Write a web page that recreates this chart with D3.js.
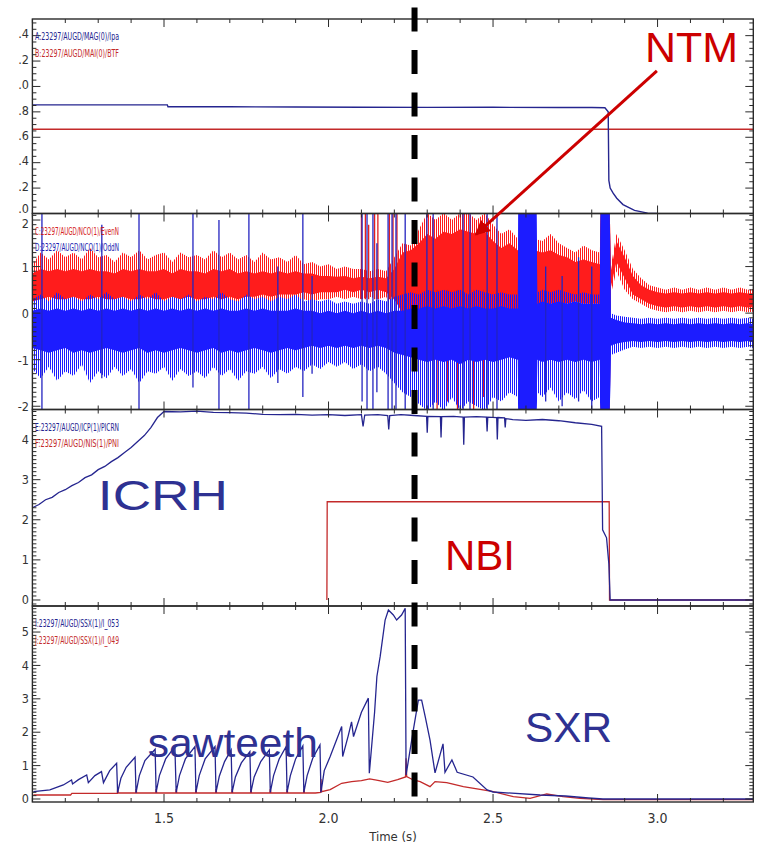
<!DOCTYPE html>
<html><head><meta charset="utf-8">
<script src="https://cdn.jsdelivr.net/npm/d3@7"></script>
<style>
html,body{margin:0;padding:0;background:#fff;}
svg{display:block;}
</style></head><body>
<svg id="chart" width="759" height="844"></svg>
<script>
// ---------- time axis ----------
const timeDomain = [1.1, 3.291];
const timeMajor = [1.5, 2.0, 2.5, 3.0];
const timeMajorLabels = ["1.5", "2.0", "2.5", "3.0"];

// ---------- panel 1: plasma current (Ipa) and toroidal field (BTF) ----------
const ipaT = [1.100, 1.300, 1.510, 1.512, 1.700, 1.900, 2.100, 2.300, 2.500, 2.700, 2.800, 2.840, 2.850, 2.852, 2.856, 2.865, 2.876, 2.895, 2.930, 2.970, 3.000];
const ipaV = [0.855, 0.855, 0.855, 0.840, 0.840, 0.838, 0.836, 0.835, 0.836, 0.834, 0.834, 0.832, 0.800, 0.260, 0.200, 0.160, 0.120, 0.070, 0.025, 0.003, 0.000];
const btfT = [1.100, 3.291];
const btfV = [0.663, 0.663];
const p1Ticks = [0, 0.2, 0.4, 0.6, 0.8, 1.0, 1.2, 1.4];
const p1TickLabels = [".0", ".2", ".4", ".6", ".8", ".0", ".2", ".4"];

// ---------- panel 2: EvenN / OddN mode signals (noise envelopes) ----------
const evenT = [1.100,1.125,1.150,1.175,1.200,1.225,1.250,1.275,1.300,1.325,
  1.350,1.375,1.400,1.425,1.450,1.475,1.500,1.525,1.550,1.575,
  1.600,1.625,1.650,1.675,1.700,1.725,1.750,1.775,1.800,1.825,
  1.850,1.875,1.900,1.925,1.950,1.975,2.000,2.025,2.050,2.075,
  2.100,2.125,2.150,2.175,2.200,2.225,2.250,2.275,2.300,2.325,
  2.350,2.375,2.400,2.425,2.450,2.475,2.500,2.525,2.550,2.575,
  2.600,2.625,2.650,2.675,2.700,2.725,2.750,2.775,2.800,
  2.824,2.827,2.855,2.858,
  2.875,2.900,2.925,2.950,2.975,3.000,3.025,3.050,3.075,3.100,3.125,3.150,3.175,3.200,3.225,3.250,3.275,3.291];
const evenOuterHi = [1.05,1.30,1.15,1.35,1.20,1.30,1.15,1.40,1.20,1.25,
  1.10,1.30,1.20,1.35,1.15,1.25,1.30,1.10,1.30,1.20,
  1.25,1.15,1.35,1.20,1.30,1.15,1.25,1.10,1.30,1.15,
  1.20,1.10,1.25,1.05,1.10,1.00,1.05,0.95,1.00,0.95,
  0.95,0.90,0.95,0.90,1.20,1.50,1.45,1.80,2.15,2.00,
  2.15,2.00,2.15,2.15,2.00,2.15,1.90,1.70,1.80,1.60,
  1.50,1.60,1.55,1.70,1.50,1.40,1.30,1.45,1.35,
  1.30,2.15,2.15,1.00,
  1.70,1.35,0.95,0.75,0.60,0.55,0.50,0.55,0.50,0.55,0.50,0.55,0.50,0.55,0.50,0.55,0.50,0.52];
const evenCoreHi = [0.85,0.95,0.90,0.95,0.90,0.95,0.90,0.95,0.90,0.90,
  0.85,0.95,0.90,0.95,0.90,0.90,0.95,0.85,0.95,0.90,
  0.90,0.85,0.95,0.90,0.95,0.85,0.90,0.85,0.90,0.85,
  0.90,0.85,0.90,0.85,0.85,0.80,0.80,0.78,0.80,0.75,
  0.78,0.75,0.78,0.75,0.95,1.30,1.35,1.50,1.70,1.60,
  1.75,1.70,1.80,1.75,1.70,1.75,1.55,1.40,1.50,1.35,
  1.30,1.35,1.30,1.35,1.25,1.20,1.10,1.15,1.10,
  1.05,2.15,2.15,0.90,
  1.55,1.20,0.80,0.60,0.50,0.45,0.42,0.45,0.42,0.45,0.42,0.45,0.42,0.45,0.42,0.45,0.42,0.43];
const evenCoreLo = [0.25,0.30,0.35,0.30,0.30,0.35,0.30,0.30,0.35,0.30,
  0.30,0.35,0.30,0.30,0.35,0.30,0.30,0.35,0.30,0.35,
  0.30,0.30,0.35,0.30,0.35,0.30,0.35,0.35,0.40,0.35,
  0.40,0.40,0.40,0.45,0.40,0.45,0.45,0.45,0.50,0.45,
  0.50,0.45,0.50,0.45,0.30,0.00,-0.10,-0.15,-0.20,-0.20,
  -0.25,-0.20,-0.20,-0.15,-0.20,-0.15,-0.10,0.00,0.00,0.05,
  0.10,0.10,0.15,0.20,0.20,0.20,0.25,0.20,0.20,
  0.20,-2.10,-2.10,0.55,
  1.10,0.75,0.40,0.30,0.20,0.15,0.12,0.15,0.12,0.15,0.12,0.15,0.12,0.15,0.12,0.15,0.12,0.13];
const evenOuterLo = [0.15,0.05,0.10,0.00,0.10,0.05,0.15,0.00,0.10,0.05,
  0.10,0.00,0.10,0.05,0.15,0.00,0.10,0.05,0.10,0.00,
  0.10,0.05,0.15,0.00,0.10,0.05,0.15,0.10,0.20,0.15,
  0.25,0.20,0.25,0.30,0.25,0.30,0.30,0.35,0.30,0.35,
  0.30,0.35,0.30,0.35,0.00,-0.40,-0.60,-0.80,-1.10,-1.20,
  -1.00,-1.40,-1.50,-1.80,-1.30,-1.90,-1.20,-0.80,-0.60,-0.50,
  -0.40,-0.30,-0.20,-0.30,-0.20,-0.30,-0.10,-0.20,-0.20,
  -0.30,-2.10,-2.10,0.40,
  0.90,0.50,0.30,0.20,0.10,0.05,0.02,0.05,0.02,0.05,0.02,0.05,0.02,0.05,0.02,0.05,0.02,0.03];

const oddT = [1.100,1.125,1.150,1.175,1.200,1.225,1.250,1.275,1.300,1.325,
  1.350,1.375,1.400,1.425,1.450,1.475,1.500,1.525,1.550,1.575,
  1.600,1.625,1.650,1.675,1.700,1.725,1.750,1.775,1.800,1.825,
  1.850,1.875,1.900,1.925,1.950,1.975,2.000,2.025,2.050,2.075,
  2.100,2.125,2.150,2.175,2.200,2.225,2.250,2.275,2.300,2.325,
  2.350,2.375,2.400,2.425,2.450,2.475,2.500,2.525,2.550,
  2.575,2.577,2.632,2.635,
  2.650,2.675,2.700,2.725,2.750,2.775,2.800,
  2.824,2.827,2.855,2.858,
  2.875,2.900,2.925,2.950,2.975,3.000,3.025,3.050,3.075,3.100,3.125,3.150,3.175,3.200,3.225,3.250,3.275,3.291];
const oddOuterHi = [0.30,0.40,0.25,0.45,0.30,0.35,0.25,0.40,0.30,0.45,
  0.30,0.35,0.25,0.40,0.30,0.45,0.25,0.35,0.30,0.40,
  0.25,0.35,0.30,0.45,0.30,0.25,0.40,0.30,0.35,0.25,
  0.35,0.30,0.40,0.25,0.30,0.25,0.30,0.20,0.25,0.20,
  0.25,0.20,0.30,0.25,0.35,0.40,0.45,0.40,0.50,0.45,
  0.50,0.45,0.50,0.40,0.50,0.45,0.40,0.45,0.40,
  0.40,2.15,2.15,0.45,
  0.50,0.45,0.50,0.45,0.40,0.45,0.40,
  0.40,2.15,2.15,0.00,
  -0.05,-0.08,-0.10,-0.12,-0.10,-0.12,-0.10,-0.12,-0.10,-0.12,-0.10,-0.12,-0.10,-0.12,-0.10,-0.12,-0.10,-0.12];
const oddCoreHi = [0.05,0.10,0.05,0.10,0.05,0.10,0.05,0.10,0.05,0.10,
  0.05,0.10,0.05,0.10,0.05,0.10,0.05,0.10,0.05,0.10,
  0.05,0.10,0.05,0.10,0.05,0.05,0.10,0.05,0.10,0.05,
  0.05,0.05,0.10,0.05,0.05,0.00,0.05,0.00,0.05,0.00,
  0.05,0.00,0.05,0.00,0.05,0.05,0.10,0.10,0.15,0.10,
  0.15,0.10,0.15,0.10,0.15,0.10,0.10,0.15,0.10,
  0.10,2.15,2.15,0.20,
  0.25,0.20,0.25,0.20,0.25,0.20,0.20,
  0.20,2.15,2.15,-0.10,
  -0.15,-0.20,-0.22,-0.24,-0.22,-0.24,-0.22,-0.24,-0.22,-0.24,-0.22,-0.24,-0.22,-0.24,-0.22,-0.24,-0.22,-0.24];
const oddCoreLo = [-0.75,-0.80,-0.85,-0.80,-0.75,-0.85,-0.80,-0.85,-0.80,-0.75,
  -0.80,-0.85,-0.80,-0.75,-0.85,-0.80,-0.85,-0.80,-0.75,-0.80,
  -0.85,-0.80,-0.75,-0.85,-0.80,-0.85,-0.80,-0.75,-0.80,-0.85,
  -0.80,-0.75,-0.80,-0.75,-0.70,-0.75,-0.70,-0.75,-0.70,-0.75,
  -0.70,-0.75,-0.70,-0.75,-0.85,-0.90,-0.95,-1.00,-1.05,-1.00,
  -1.05,-1.00,-1.10,-1.00,-1.05,-1.00,-1.05,-1.00,-0.95,
  -1.00,-2.10,-2.10,-1.00,
  -1.05,-1.00,-1.05,-1.00,-1.05,-1.00,-1.05,
  -1.00,-2.10,-2.10,-0.70,
  -0.65,-0.62,-0.60,-0.62,-0.60,-0.62,-0.60,-0.62,-0.60,-0.62,-0.60,-0.62,-0.60,-0.62,-0.60,-0.62,-0.60,-0.62];
const oddOuterLo = [-1.20,-1.40,-1.15,-1.45,-1.25,-1.35,-1.10,-1.50,-1.25,-1.40,
  -1.15,-1.35,-1.20,-1.50,-1.25,-1.30,-1.15,-1.45,-1.20,-1.35,
  -1.25,-1.40,-1.15,-1.35,-1.20,-1.45,-1.25,-1.30,-1.15,-1.40,
  -1.20,-1.30,-1.15,-1.25,-1.10,-1.20,-1.05,-1.15,-1.05,-1.20,
  -1.10,-1.25,-1.15,-1.30,-1.50,-1.70,-1.80,-1.95,-2.10,-1.90,
  -2.10,-1.80,-2.10,-1.90,-2.00,-2.10,-1.80,-1.90,-1.70,
  -1.80,-2.10,-2.10,-1.70,
  -1.80,-1.60,-1.90,-1.70,-1.85,-1.65,-1.90,
  -1.80,-2.10,-2.10,-0.90,
  -0.85,-0.78,-0.72,-0.75,-0.72,-0.75,-0.72,-0.75,-0.72,-0.75,-0.72,-0.75,-0.72,-0.75,-0.72,-0.75,-0.72,-0.75];

// isolated full-scale excursions
const oddSpikeT  = [1.129, 1.311, 1.424, 1.588, 1.667, 1.758, 1.846, 1.922, 1.950, 2.102, 2.117, 2.135, 2.147, 2.181, 2.193, 2.205, 2.233, 2.299, 2.318, 2.409, 2.430, 2.482, 2.512, 2.660, 2.710, 2.760, 2.800];
const oddSpikeLo = [-2.10, -1.40, -2.10, -1.60, -2.10, -2.10, -1.50, -1.80, -1.30, -1.90, -2.10, -2.10, -1.70, -2.10, -2.10, -2.10, -2.10, -2.10, -2.10, -2.10, -2.10, -2.10, -2.10, -1.90, -2.00, -1.90, -2.10];
const oddSpikeHi = [2.15, 1.90, 2.15, 2.15, 2.00, 2.15, 1.00, 2.15, 0.80, 2.15, 2.15, 2.15, 1.50, 2.15, 2.15, 2.15, 2.15, 2.15, 2.15, 2.15, 2.15, 2.15, 2.15, 1.00, 0.80, 1.20, 1.00];
const evenSpikeT  = [2.100, 2.112, 2.122, 2.140, 2.150, 2.185, 2.196, 2.208, 2.330, 2.362, 2.392, 2.441, 2.471];
const evenSpikeLo = [0.30, 0.30, 0.30, 0.30, 0.30, 0.30, 0.30, 0.30, -2.10, -1.90, -2.10, -2.10, -1.80];
const evenSpikeHi = [2.15, 2.15, 1.90, 2.15, 2.15, 2.15, 2.15, 2.15, 0.50, 0.50, 0.50, 0.50, 0.50];
const p2Ticks = [-2, -1, 0, 1, 2];
const p2TickLabels = ["-2", "-1", "0", "1", "2"];

// ---------- panel 3: ICRH and NBI heating power ----------
const icrhT = [1.100,1.120,1.140,1.160,1.180,1.200,1.220,1.240,1.260,1.280,1.300,1.320,1.340,1.360,1.380,1.400,1.420,1.440,1.460,1.480,
  1.500,1.550,1.600,1.650,1.700,1.750,1.800,1.850,1.900,1.950,2.000,2.050,2.100,2.105,2.110,2.150,2.180,2.183,2.186,2.220,2.260,
  2.298,2.300,2.302,2.340,2.342,2.344,2.380,2.409,2.411,2.413,2.450,2.480,2.482,2.484,2.511,2.513,2.515,2.535,2.537,2.539,
  2.560,2.600,2.650,2.700,2.750,2.800,2.830,2.833,2.845,2.852,2.856,2.870,3.291];
const icrhV = [2.30,2.38,2.50,2.56,2.68,2.75,2.85,2.93,3.05,3.12,3.25,3.33,3.45,3.55,3.68,3.80,3.95,4.10,4.30,4.55,
  4.70,4.69,4.71,4.68,4.67,4.66,4.63,4.62,4.63,4.61,4.62,4.60,4.62,4.33,4.61,4.62,4.60,4.25,4.60,4.62,4.60,
  4.58,4.17,4.58,4.57,4.05,4.57,4.58,4.56,3.87,4.56,4.57,4.56,4.20,4.56,4.55,4.00,4.55,4.54,4.30,4.52,
  4.50,4.48,4.50,4.47,4.42,4.38,4.33,1.75,1.55,0.90,0.00,0.00,0.00];
const nbiT = [1.995, 1.996, 2.853, 2.854, 3.291];
const nbiV = [0.00, 2.45, 2.45, 0.00, 0.00];
const p3Ticks = [0, 1, 2, 3, 4];
const p3TickLabels = ["0", "1", "2", "3", "4"];

// ---------- panel 4: soft X-ray channels ----------
const sxrBlueT = [1.103,1.153,1.194,1.219,1.222,1.240,1.265,1.270,1.290,1.310,1.316,1.335,1.356,
  1.359,1.369,1.385,1.412,
  1.415,1.425,1.442,1.473,
  1.476,1.486,1.505,1.533,
  1.537,1.547,1.565,1.594,
  1.597,1.607,1.625,1.655,
  1.658,1.668,1.684,1.704,
  1.707,1.717,1.735,1.761,
  1.764,1.774,1.794,1.820,
  1.823,1.833,1.850,1.871,
  1.874,1.884,1.900,1.922,
  1.925,1.935,1.952,1.974,
  1.977,1.987,2.005,2.040,2.043,2.060,2.070,2.076,2.100,2.121,2.124,2.140,2.147,2.157,2.172,2.182,2.197,2.207,2.222,2.233,
  2.2357,2.2578,2.273,2.283,2.294,2.3085,2.3237,2.348,2.354,2.375,2.391,2.439,2.482,2.500,2.643,2.720,2.790,2.834,3.291];
const sxrBlueV = [0.22,0.27,0.42,0.57,0.45,0.58,0.72,0.49,0.70,0.82,0.49,0.85,1.07,
  0.19,0.62,0.95,1.25,
  0.19,0.70,1.15,1.49,
  0.20,0.70,1.20,1.57,
  0.20,0.70,1.20,1.57,
  0.20,0.70,1.20,1.57,
  0.20,0.68,1.12,1.47,
  0.20,0.66,1.08,1.42,
  0.20,0.66,1.12,1.47,
  0.20,0.70,1.20,1.57,
  0.20,0.70,1.20,1.59,
  0.20,0.70,1.22,1.62,
  0.20,0.85,1.27,2.17,1.27,1.90,2.31,1.87,2.60,3.02,0.77,2.60,3.67,4.27,5.36,5.66,5.51,5.36,5.51,5.71,
  0.72,2.07,2.96,2.96,2.46,1.76,0.78,1.65,0.80,1.17,0.80,0.66,0.27,0.21,0.12,0.09,0.03,0.00,0.00];
const sxrRedT = [1.103,1.216,1.220,1.358,1.359,1.361,1.414,1.415,1.417,1.475,1.476,1.478,1.536,1.537,1.539,
  1.596,1.597,1.599,1.657,1.658,1.660,1.706,1.707,1.709,1.763,1.764,1.766,1.822,1.823,1.825,1.873,1.874,1.876,
  1.924,1.925,1.927,1.960,1.976,1.977,1.979,2.005,2.040,2.070,2.100,2.125,2.150,2.180,2.210,2.234,2.2357,2.2375,
  2.2578,2.2785,2.3085,2.3237,2.3593,2.4097,2.4605,2.5009,2.5617,2.6125,2.6632,2.7128,2.7644,2.8343,3.291];
const sxrRedV = [0.12,0.12,0.17,0.17,0.30,0.18,0.18,0.30,0.18,0.18,0.30,0.18,0.18,0.30,0.18,
  0.18,0.30,0.18,0.18,0.30,0.18,0.18,0.30,0.18,0.18,0.30,0.18,0.18,0.30,0.18,0.18,0.30,0.18,
  0.18,0.30,0.18,0.18,0.20,0.60,0.22,0.28,0.47,0.52,0.55,0.60,0.56,0.50,0.58,0.66,1.22,0.67,
  0.57,0.52,0.37,0.52,0.49,0.37,0.29,0.22,0.07,0.02,0.15,0.07,0.02,-0.02,-0.02];
const p4Ticks = [0, 1, 2, 3, 4, 5];
const p4TickLabels = ["0", "1", "2", "3", "4", "5"];

// ---------- signal names (upper line, lower line) ----------
const legendTop = ["A:23297/AUGD/MAG(0)/Ipa", "C:23297/AUGD/NCO(1)/EvenN", "E:23297/AUGD/ICP(1)/PICRN", "I:23297/AUGD/SSX(1)/I_053"];
const legendBottom = ["B:23297/AUGD/MAI(0)/BTF", "D:23297/AUGD/NCO(1)/OddN", "F:23297/AUGD/NIS(1)/PNI", "J:23297/AUGD/SSX(1)/I_049"];
const legendTopColor = ["#25258f", "#d42020", "#25258f", "#25258f"];
const legendBottomColor = ["#c32a2a", "#2020b0", "#c32a2a", "#c32a2a"];

// ---------- annotations (panel index, time, value) ----------
const annotations = [
  {text: "NTM", panel: 0, t: 2.962, v: 1.193, color: "#cc0000", size: 42, len: 93},
  {text: "ICRH", panel: 2, t: 1.299, v: 2.25, color: "#2e3192", size: 42, len: 130},
  {text: "NBI", panel: 2, t: 2.354, v: 0.75, color: "#cc0000", size: 42, len: 70},
  {text: "sawteeth", panel: 3, t: 1.451, v: 1.26, color: "#2e3192", size: 40, len: 170},
  {text: "SXR", panel: 3, t: 2.597, v: 1.71, color: "#2e3192", size: 42, len: 87}
];
const arrowFrom = {panel: 0, t: 2.998, v: 1.122};
const arrowTo = {panel: 1, t: 2.448, v: 1.69};
const markerTime = 2.2614;

// ---------- layout ----------
const plotLeft = 32.4, plotRight = 753.3;
const panelEdges = [19, 213.5, 409.5, 606, 802];
const panelDomains = [[0, 1.531], [-2.07, 2.14], [-0.15, 4.75], [-0.09, 5.78]];
const minorSteps = [0.05, 0.1, 0.1, 0.1];
const tickSets = [[p1Ticks, p1TickLabels], [p2Ticks, p2TickLabels], [p3Ticks, p3TickLabels], [p4Ticks, p4TickLabels]];
// vertical nudge of a tick label: labels next to a shared panel edge are pushed apart
function labelNudge(panel, k, n) {
  if (panel === 0) return k === 0 ? -5 : -1.5;
  if (panel === 1) return k === n - 1 ? 3.5 : 1;
  return 0;
}

const navy = "#25258f", darkRed = "#c32a2a", vivRed = "#ff1c1c", vivBlue = "#1c1cff";
const narrow = "'Liberation Sans Narrow','Arial Narrow','DejaVu Sans Condensed','Roboto Condensed',sans-serif";

const svg = d3.select("#chart");
const x = d3.scaleLinear().domain(timeDomain).range([plotLeft, plotRight]);
const ys = panelDomains.map((d, i) => d3.scaleLinear().domain(d).range([panelEdges[i + 1], panelEdges[i]]));

const defs = svg.append("defs");
ys.forEach((sy, i) => {
  defs.append("clipPath").attr("id", "clip" + i)
    .append("rect").attr("x", plotLeft).attr("y", panelEdges[i])
    .attr("width", plotRight - plotLeft).attr("height", panelEdges[i + 1] - panelEdges[i]);
});
// fine vertical hatching for the sparse outer part of each noise band
[["hatchRed", vivRed], ["hatchBlue", vivBlue]].forEach(([id, c]) => {
  const p = defs.append("pattern").attr("id", id).attr("patternUnits", "userSpaceOnUse")
    .attr("width", 2).attr("height", 8);
  p.append("rect").attr("x", 0).attr("y", 0).attr("width", 1).attr("height", 8).attr("fill", c);
});

const linePath = (sy, T, V) => d3.line().x((d, i) => x(T[i])).y((d, i) => sy(V[i]))(T);
const bandPath = (sy, T, lo, hi) => d3.area().x((d, i) => x(T[i])).y0((d, i) => sy(lo[i])).y1((d, i) => sy(hi[i]))(T);
const layer = i => svg.append("g").attr("clip-path", `url(#clip${i})`);

// panel 1
{
  const g = layer(0), sy = ys[0];
  g.append("path").attr("d", linePath(sy, btfT, btfV)).attr("fill", "none").attr("stroke", darkRed).attr("stroke-width", 1.3);
  g.append("path").attr("d", linePath(sy, ipaT, ipaV)).attr("fill", "none").attr("stroke", navy).attr("stroke-width", 1.4);
}
// panel 2
{
  const g = layer(1), sy = ys[1];
  g.append("path").attr("d", bandPath(sy, evenT, evenOuterLo, evenOuterHi)).attr("fill", "url(#hatchRed)");
  g.append("path").attr("d", bandPath(sy, evenT, evenCoreLo, evenCoreHi)).attr("fill", vivRed);
  g.selectAll("line.es").data(evenSpikeT).join("line")
    .attr("x1", d => x(d)).attr("x2", d => x(d))
    .attr("y1", (d, i) => sy(evenSpikeLo[i])).attr("y2", (d, i) => sy(evenSpikeHi[i]))
    .attr("stroke", "#e02020").attr("stroke-width", 1.3);
  g.append("path").attr("d", bandPath(sy, oddT, oddOuterLo, oddOuterHi)).attr("fill", "url(#hatchBlue)");
  g.append("path").attr("d", bandPath(sy, oddT, oddCoreLo, oddCoreHi)).attr("fill", vivBlue);
  g.selectAll("line.os").data(oddSpikeT).join("line")
    .attr("x1", d => x(d)).attr("x2", d => x(d))
    .attr("y1", (d, i) => sy(oddSpikeLo[i])).attr("y2", (d, i) => sy(oddSpikeHi[i]))
    .attr("stroke", "#2424c0").attr("stroke-width", 1.3);
}
// panel 3
{
  const g = layer(2), sy = ys[2];
  g.append("path").attr("d", linePath(sy, nbiT, nbiV)).attr("fill", "none").attr("stroke", darkRed).attr("stroke-width", 1.3);
  g.append("path").attr("d", linePath(sy, icrhT, icrhV)).attr("fill", "none").attr("stroke", navy).attr("stroke-width", 1.3);
}
// panel 4
{
  const g = layer(3), sy = ys[3];
  g.append("path").attr("d", linePath(sy, sxrRedT, sxrRedV)).attr("fill", "none").attr("stroke", darkRed).attr("stroke-width", 1.3);
  g.append("path").attr("d", linePath(sy, sxrBlueT, sxrBlueV)).attr("fill", "none").attr("stroke", navy).attr("stroke-width", 1.3);
}

// frames, ticks, tick labels and signal names
const timeMinor = d3.range(11, 33).map(k => k / 10);
ys.forEach((sy, i) => {
  const top = panelEdges[i], bot = panelEdges[i + 1];
  const g = svg.append("g").attr("stroke", "#2a2a2a");
  g.append("rect").attr("x", plotLeft).attr("y", top).attr("width", plotRight - plotLeft).attr("height", bot - top)
    .attr("fill", "none").attr("stroke-width", 1.4);
  timeMinor.forEach(t => {
    const major = timeMajor.some(m => Math.abs(m - t) < 1e-6);
    const L = major ? 8 : 4;
    g.append("line").attr("x1", x(t)).attr("x2", x(t)).attr("y1", top).attr("y2", top + L).attr("stroke-width", 1);
    g.append("line").attr("x1", x(t)).attr("x2", x(t)).attr("y1", bot - L).attr("y2", bot).attr("stroke-width", 1);
  });
  const [d0, d1] = panelDomains[i];
  const step = minorSteps[i];
  const minor = d3.range(Math.ceil(d0 / step), Math.floor(d1 / step) + 1).map(k => k * step);
  minor.forEach(v => {
    const isMajor = tickSets[i][0].some(m => Math.abs(m - v) < 1e-6);
    const L = isMajor ? 8 : 4;
    g.append("line").attr("x1", plotLeft).attr("x2", plotLeft + L).attr("y1", sy(v)).attr("y2", sy(v)).attr("stroke-width", 1);
    g.append("line").attr("x1", plotRight - L).attr("x2", plotRight).attr("y1", sy(v)).attr("y2", sy(v)).attr("stroke-width", 1);
  });
  const [vals, labels] = tickSets[i];
  svg.append("g").selectAll("text").data(vals).join("text")
    .attr("x", 29).attr("y", (v, k) => sy(v) + labelNudge(i, k, vals.length)).attr("dy", "0.34em")
    .attr("text-anchor", "end").attr("font-family", narrow).attr("font-size", 12.5).attr("fill", "#333")
    .text((v, k) => labels[k]);
  svg.append("text").attr("x", 35).attr("y", top + 21).attr("font-family", narrow).attr("font-size", 10.5)
    .attr("fill", legendTopColor[i]).attr("textLength", 84).attr("lengthAdjust", "spacingAndGlyphs").text(legendTop[i]);
  svg.append("text").attr("x", 35).attr("y", top + 37.5).attr("font-family", narrow).attr("font-size", 10.5)
    .attr("fill", legendBottomColor[i]).attr("textLength", 84).attr("lengthAdjust", "spacingAndGlyphs").text(legendBottom[i]);
});
// time axis labels
svg.append("g").selectAll("text").data(timeMajor).join("text")
  .attr("x", d => x(d)).attr("y", 823).attr("text-anchor", "middle")
  .attr("font-family", narrow).attr("font-size", 14).attr("fill", "#333")
  .text((d, i) => timeMajorLabels[i]);
svg.append("text").attr("x", 393).attr("y", 841).attr("text-anchor", "middle")
  .attr("font-family", narrow).attr("font-size", 13).attr("fill", "#333").text("Time (s)");

// annotations
annotations.forEach(a => {
  svg.append("text").attr("x", x(a.t)).attr("y", ys[a.panel](a.v))
    .attr("font-family", "'Liberation Sans',Arial,sans-serif").attr("font-size", a.size)
    .attr("fill", a.color).attr("textLength", a.len).attr("lengthAdjust", "spacingAndGlyphs").text(a.text);
});
defs.append("marker").attr("id", "head").attr("viewBox", "0 0 10 10").attr("refX", 9).attr("refY", 5)
  .attr("markerWidth", 5).attr("markerHeight", 5).attr("orient", "auto")
  .append("path").attr("d", "M0,0 L10,5 L0,10 Z").attr("fill", "#cc0000");
svg.append("line")
  .attr("x1", x(arrowFrom.t)).attr("y1", ys[arrowFrom.panel](arrowFrom.v))
  .attr("x2", x(arrowTo.t)).attr("y2", ys[arrowTo.panel](arrowTo.v))
  .attr("stroke", "#cc0000").attr("stroke-width", 3).attr("marker-end", "url(#head)");

// time marker
svg.append("line").attr("x1", x(markerTime)).attr("x2", x(markerTime)).attr("y1", -35).attr("y2", 797)
  .attr("stroke", "#000").attr("stroke-width", 6).attr("stroke-dasharray", "24,18.5");
</script>
</body></html>
